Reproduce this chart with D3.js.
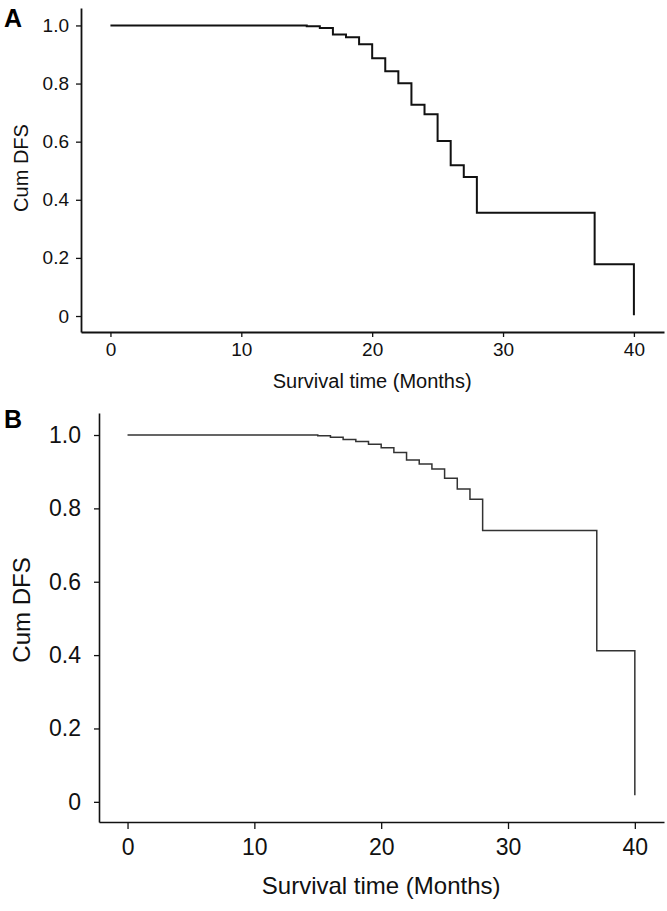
<!DOCTYPE html>
<html>
<head>
<meta charset="utf-8">
<script src="https://cdn.jsdelivr.net/npm/d3@7"></script>
<style>
body { margin: 0; background: #fff; }
text { font-family: "Liberation Sans", Arial, sans-serif; }
</style>
</head>
<body>
<svg id="chart" width="667" height="911"></svg>
<script>
// Kaplan-Meier steps
var monthsA = [0, 15, 16, 17, 18, 19, 20, 21, 22, 23, 24, 25, 26, 27, 28, 37, 40]
var dfsA = [1, 0.997, 0.991, 0.969, 0.959, 0.935, 0.887, 0.842, 0.801, 0.727, 0.694, 0.602, 0.519, 0.478, 0.355, 0.178, 0.003]

var monthsB = [0, 15, 16, 17, 18, 19, 20, 21, 22, 23, 24, 25, 26, 27, 28, 37, 40]
var dfsB = [1, 0.998, 0.994, 0.988, 0.982, 0.975, 0.965, 0.952, 0.932, 0.921, 0.907, 0.882, 0.853, 0.825, 0.740, 0.412, 0.018]

var xTicks = [0, 10, 20, 30, 40]
var yTicks = [0, 0.2, 0.4, 0.6, 0.8, 1.0]
var xTitle = "Survival time (Months)"
var yTitle = "Cum DFS"

var svg = d3.select("#chart")

function panel(o) {
    var g = svg.append("g")

    var x = d3.scaleLinear().domain([-2.25, 42.3]).range([o.left, o.right])
    var y = d3.scaleLinear().domain([-0.055, 1.06]).range([o.bottom, o.top])

    var fmt = function(d) { return d === 0 ? "0" : d3.format(".1f")(d) }

    var line = d3.line()
        .x(function(d) { return x(d[0]) })
        .y(function(d) { return y(d[1]) })
        .curve(d3.curveStepAfter)

    g.append("path")
        .datum(d3.zip(o.months, o.dfs))
        .attr("fill", "none")
        .attr("stroke", o.curveColor)
        .attr("stroke-width", o.curveWidth)
        .attr("d", line)

    g.append("g")
        .attr("transform", "translate(0," + o.bottom + ")")
        .call(d3.axisBottom(x).tickValues(xTicks).tickSizeInner(o.xTick).tickSizeOuter(0).tickPadding(o.xPad))
    g.append("g")
        .attr("transform", "translate(" + o.left + ",0)")
        .call(d3.axisLeft(y).tickValues(yTicks).tickFormat(fmt).tickSizeInner(5).tickSizeOuter(0).tickPadding(o.yPad))

    g.selectAll(".domain").attr("stroke", "#111").attr("stroke-width", o.axisWidth)
    g.selectAll(".tick line").attr("stroke", "#111").attr("stroke-width", 1.3)
    g.selectAll(".tick text")
        .attr("fill", "#111")
        .style("font-size", o.tickFont + "px")

    g.append("text")
        .attr("x", x(20))
        .attr("y", o.xTitleY)
        .attr("text-anchor", "middle")
        .attr("fill", "#111")
        .style("font-size", o.titleFont + "px")
        .text(xTitle)

    g.append("text")
        .attr("transform", "translate(" + o.yTitleX + "," + o.yTitleMid + ") rotate(-90)")
        .attr("text-anchor", "middle")
        .attr("fill", "#111")
        .style("font-size", o.titleFont + "px")
        .text(yTitle)

    g.append("text")
        .attr("x", 4)
        .attr("y", o.letterY)
        .attr("fill", "#000")
        .style("font-size", "25px")
        .style("font-weight", "bold")
        .text(o.letter)
}

panel({
    letter: "A", letterY: 27,
    months: monthsA, dfs: dfsA,
    left: 81, right: 664, top: 8, bottom: 332,
    curveColor: "#111", curveWidth: 2, axisWidth: 1.8,
    xTick: 5, xPad: 6, yPad: 7,
    tickFont: 19, titleFont: 20,
    xTitleY: 388, yTitleX: 28, yTitleMid: 168
})

panel({
    letter: "B", letterY: 428,
    months: monthsB, dfs: dfsB,
    left: 99, right: 664, top: 413, bottom: 822,
    curveColor: "#333", curveWidth: 1.5, axisWidth: 1.6,
    xTick: 7, xPad: 10, yPad: 13,
    tickFont: 23, titleFont: 24,
    xTitleY: 894, yTitleX: 30, yTitleMid: 610
})
</script>
</body>
</html>
